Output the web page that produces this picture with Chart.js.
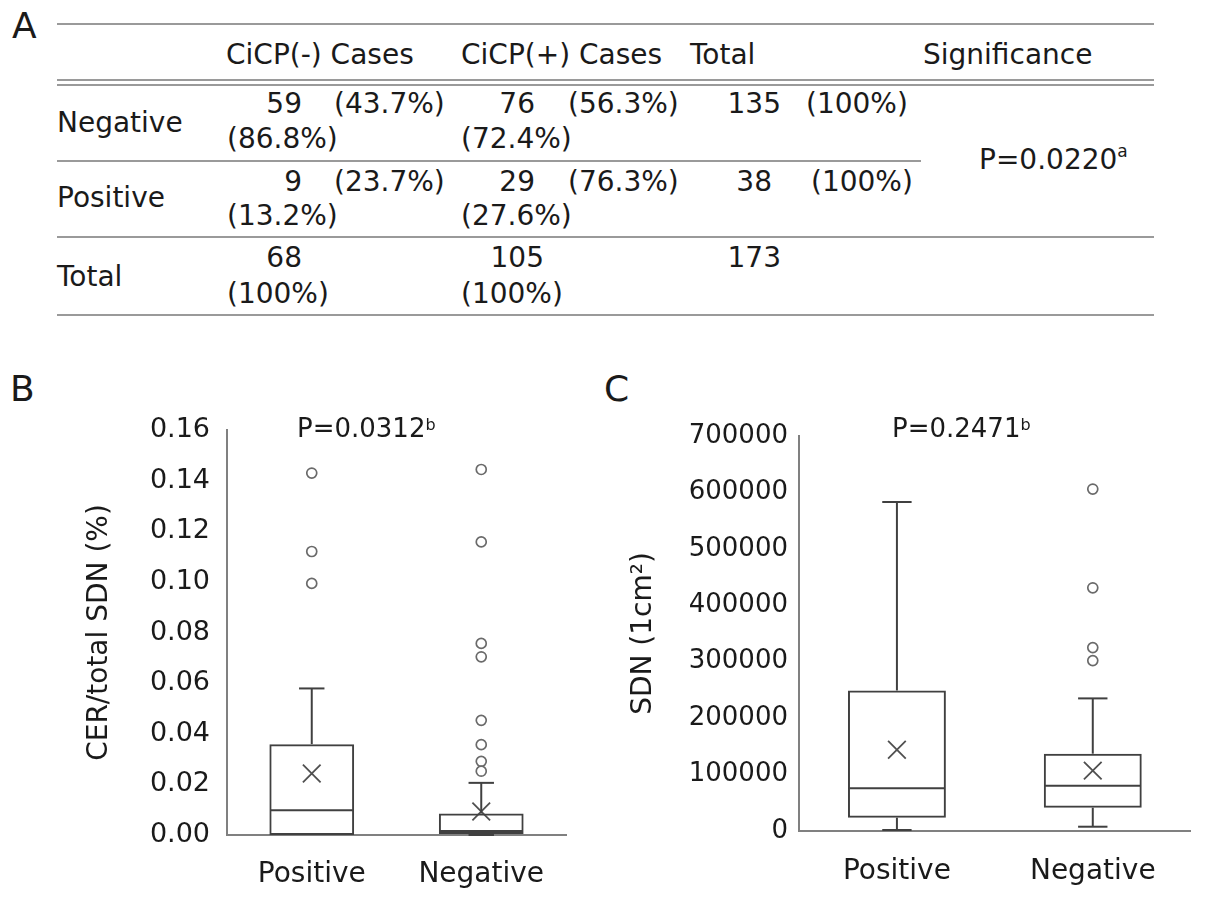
<!DOCTYPE html>
<html>
<head>
<meta charset="utf-8">
<title>CiCP and CER / SDN</title>
<script src="https://cdn.jsdelivr.net/npm/chart.js@4.4.0/dist/chart.umd.min.js"></script>
<style>
  html, body { margin: 0; padding: 0; background: #fff; }
  #page { position: relative; width: 1205px; height: 902px; overflow: hidden;
          font-family: 'DejaVu Sans', sans-serif; color: #1a1a1a; }
  .t { position: absolute; font-size: 28px; line-height: 28px; white-space: nowrap; }
  .rule { position: absolute; height: 2px; background: #9a9a9a; }
  .panel { position: absolute; font-size: 36px; line-height: 36px; }
  .pval { position: absolute; font-size: 26px; line-height: 26px; white-space: nowrap; }
  .sup { position: relative; font-size: 16px; }
  .holder { position: absolute; }
</style>
</head>
<body>
<div id="page">
  <div class="panel" style="left:12px;top:8px">A</div>
  <div class="panel" style="left:10px;top:371px">B</div>
  <div class="panel" style="left:604px;top:371px">C</div>
  <div id="tableA"></div>
  <div class="holder" style="left:0;top:380px;width:600px;height:522px"><canvas id="chartB"></canvas></div>
  <div class="holder" style="left:600px;top:380px;width:605px;height:522px"><canvas id="chartC"></canvas></div>
  <div class="pval" id="pB" style="left:297px;top:415px"></div>
  <div class="pval" id="pC" style="left:892px;top:415px"></div>
</div>
<script>
// ---- panel A: contingency table ----
const tableCols = ["CiCP(-) Cases", "CiCP(+) Cases", "Total", "Significance"];
const tableRows = ["Negative", "Positive", "Total"];
const negCases = [59, 9, 68];
const posCases = [76, 29, 105];
const rowTotals = [135, 38, 173];
const negRowPct = ["(43.7%)", "(23.7%)"];
const posRowPct = ["(56.3%)", "(76.3%)"];
const totalRowPct = ["(100%)", "(100%)"];
const negColPct = ["(86.8%)", "(13.2%)", "(100%)"];
const posColPct = ["(72.4%)", "(27.6%)", "(100%)"];
const tableP = "P=0.0220";

// ---- panel B: CER / total SDN (%) ----
const groups = ["Positive", "Negative"];
const cerMin = [0, 0];
const cerQ1 = [0, 0.0004];
const cerMedian = [0.0098, 0.0016];
const cerQ3 = [0.0359, 0.0085];
const cerMax = [0.0579, 0.0206];
const cerMean = [0.0243, 0.0093];
const cerOutliersPos = [0.143, 0.112, 0.0994];
const cerOutliersNeg = [0.1444, 0.1158, 0.0757, 0.0704, 0.0453, 0.0357, 0.0291, 0.0252];
const cerP = "P=0.0312";

// ---- panel C: SDN (1cm2) ----
const sdnMin = [1800, 7600];
const sdnQ1 = [23600, 41300];
const sdnMedian = [75700, 80300];
const sdnQ3 = [249000, 137000];
const sdnMax = [583000, 235000];
const sdnMean = [144000, 107000];
const sdnOutliersPos = [];
const sdnOutliersNeg = [606000, 431000, 325000, 302000];
const sdnP = "P=0.2471";

// table layout
const ROW_TOP = [90, 168, 244];
const ROW2_TOP = [125, 202, 280];
const LABEL_TOP = [109, 184, 263];
const POS_COUNT_RIGHT = [535, 535, 544];
const TOTAL_RIGHT = [781, 772, 781];
const TOTAL_PCT_LEFT = [806, 811];

const tableEl = document.getElementById("tableA");

function put(text, x, top, align) {
  const d = document.createElement("div");
  d.className = "t";
  d.textContent = text;
  d.style.top = top + "px";
  if (align === "right") d.style.right = (1205 - x) + "px";
  else d.style.left = x + "px";
  tableEl.appendChild(d);
  return d;
}

function rule(y, x0, x1) {
  const d = document.createElement("div");
  d.className = "rule";
  d.style.top = y + "px";
  d.style.left = x0 + "px";
  d.style.width = (x1 - x0) + "px";
  tableEl.appendChild(d);
}

rule(23, 57, 1154);
rule(79, 57, 1154);
rule(84, 57, 1154);
rule(160, 57, 921);
rule(236, 57, 1154);
rule(314, 57, 1154);

[226, 461, 690, 923].forEach((x, i) => put(tableCols[i], x, 41));

tableRows.forEach((label, r) => {
  put(label, 57, LABEL_TOP[r]);
  put(String(negCases[r]), 302, ROW_TOP[r], "right");
  put(String(posCases[r]), POS_COUNT_RIGHT[r], ROW_TOP[r], "right");
  put(String(rowTotals[r]), TOTAL_RIGHT[r], ROW_TOP[r], "right");
  put(negColPct[r], 227, ROW2_TOP[r]);
  put(posColPct[r], 461, ROW2_TOP[r]);
  if (r < 2) {
    put(negRowPct[r], 334, ROW_TOP[r]);
    put(posRowPct[r], 568, ROW_TOP[r]);
    put(totalRowPct[r], TOTAL_PCT_LEFT[r], ROW_TOP[r]);
  }
});

const sig = put(tableP, 979, 146);
sig.innerHTML = tableP + '<span class="sup" style="top:-12px;font-size:17px">a</span>';

document.getElementById("pB").innerHTML = cerP + '<span class="sup" style="top:-7px">b</span>';
document.getElementById("pC").innerHTML = sdnP + '<span class="sup" style="top:-7px">b</span>';

// ---- box plots ----
Chart.defaults.font.family = "'DejaVu Sans', sans-serif";
Chart.defaults.color = "#1a1a1a";

const BOX = "#404040";
const AXIS = "#808080";

// median line and whiskers, drawn through the chart's own scales
const boxWhiskers = {
  id: "boxWhiskers",
  afterDatasetsDraw(chart, args, opts) {
    const { ctx, scales: { y } } = chart;
    const meta = chart.getDatasetMeta(0);
    ctx.save();
    ctx.strokeStyle = BOX;
    ctx.lineWidth = 2;
    const seg = (x0, y0, x1, y1) => {
      ctx.beginPath();
      ctx.moveTo(x0, y0);
      ctx.lineTo(x1, y1);
      ctx.stroke();
    };
    meta.data.forEach((bar, i) => {
      const cx = bar.x;
      const half = bar.width / 2;
      const cap = bar.width * 0.15;
      const yMed = y.getPixelForValue(opts.median[i]);
      seg(cx - half + 1, yMed, cx + half - 1, yMed);
      const yQ3 = y.getPixelForValue(opts.q3[i]);
      const yMax = y.getPixelForValue(opts.max[i]);
      if (opts.max[i] > opts.q3[i]) {
        seg(cx, yQ3, cx, yMax);
        seg(cx - cap, yMax, cx + cap, yMax);
      }
      const yQ1 = y.getPixelForValue(opts.q1[i]);
      const yMin = y.getPixelForValue(opts.min[i]);
      if (opts.min[i] < opts.q1[i]) {
        seg(cx, yQ1, cx, yMin);
        seg(cx - cap, yMin, cx + cap, yMin);
      }
    });
    ctx.restore();
  },
};

function boxChart(id, cfg) {
  const outliers = [
    ...cfg.outPos.map((v) => ({ x: groups[0], y: v })),
    ...cfg.outNeg.map((v) => ({ x: groups[1], y: v })),
  ];
  return new Chart(document.getElementById(id), {
    type: "bar",
    data: {
      labels: groups,
      datasets: [
        {
          label: "box",
          data: groups.map((g, i) => [cfg.q1[i], cfg.q3[i]]),
          backgroundColor: "rgba(255,255,255,0)",
          borderColor: BOX,
          borderWidth: 2,
          borderSkipped: false,
          barPercentage: 0.5,
          categoryPercentage: 1,
        },
        {
          type: "line",
          label: "mean",
          data: groups.map((g, i) => ({ x: g, y: cfg.mean[i] })),
          showLine: false,
          pointStyle: "crossRot",
          pointRadius: 12.5,
          pointBorderWidth: 1.8,
          pointBorderColor: "#505050",
        },
        {
          type: "line",
          label: "outliers",
          data: outliers,
          showLine: false,
          pointStyle: "circle",
          pointRadius: 5,
          pointBorderWidth: 1.7,
          pointBorderColor: "#6a6a6a",
          pointBackgroundColor: "#fff",
        },
      ],
    },
    options: {
      responsive: true,
      maintainAspectRatio: false,
      animation: false,
      events: [],
      layout: { padding: { top: cfg.padTop, right: cfg.padRight, left: 0, bottom: 0 } },
      plugins: {
        legend: { display: false },
        tooltip: { enabled: false },
        boxWhiskers: { q1: cfg.q1, q3: cfg.q3, median: cfg.median, min: cfg.min, max: cfg.max },
      },
      scales: {
        x: {
          type: "category",
          grid: { display: false, drawTicks: false },
          border: { display: true, color: AXIS, width: 2 },
          ticks: { font: { size: 28 }, color: "#1a1a1a", padding: cfg.xPad },
          afterFit: (s) => { s.height = cfg.xHeight; },
        },
        y: {
          min: 0,
          max: cfg.yMax,
          grid: { display: false, drawTicks: false },
          border: { display: true, color: AXIS, width: 2 },
          ticks: {
            stepSize: cfg.step,
            font: { size: cfg.tickSize },
            color: "#1a1a1a",
            padding: cfg.yPad,
            callback: cfg.fmt,
          },
          title: {
            display: true,
            text: cfg.title,
            font: { size: 28 },
            color: "#1a1a1a",
            padding: { top: cfg.titlePad, bottom: 0 },
          },
          afterFit: (s) => { s.width = cfg.yWidth; },
        },
      },
    },
    plugins: [boxWhiskers],
  });
}

boxChart("chartB", {
  q1: cerQ1, q3: cerQ3, median: cerMedian, min: cerMin, max: cerMax, mean: cerMean,
  outPos: cerOutliersPos, outNeg: cerOutliersNeg,
  yMax: 0.16, step: 0.02, fmt: (v) => v.toFixed(2), tickSize: 27,
  title: "CER/total SDN (%)", titlePad: 83,
  yWidth: 227, yPad: 17, xHeight: 67, xPad: 23, padTop: 50, padRight: 34,
});

boxChart("chartC", {
  q1: sdnQ1, q3: sdnQ3, median: sdnMedian, min: sdnMin, max: sdnMax, mean: sdnMean,
  outPos: sdnOutliersPos, outNeg: sdnOutliersNeg,
  yMax: 700000, step: 100000, fmt: (v) => String(v), tickSize: 26,
  title: "SDN (1cm²)", titlePad: 27,
  yWidth: 199, yPad: 11, xHeight: 71, xPad: 24, padTop: 56, padRight: 13,
});
</script>
</body>
</html>
